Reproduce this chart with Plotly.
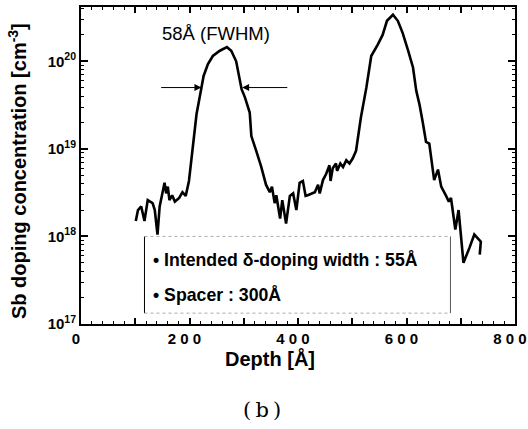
import plotly.graph_objects as go

# Sb SIMS profile
depth = [101, 105, 111, 117, 123, 132, 136, 141, 145, 150, 154, 157, 160, 163, 168,
         173, 181, 187, 193, 199, 206, 213, 222, 226, 234, 243, 256, 269, 277, 286,
         296, 302, 311, 314, 323, 332, 341, 348, 352, 357, 360, 364, 367, 371, 375,
         378, 385, 391, 397, 403, 409, 414, 418, 431, 437, 440, 446, 452, 458, 460,
         464, 470, 472, 478, 483, 489, 495, 501, 507, 516, 526, 535, 547, 556, 564,
         575, 584, 593, 603, 612, 618, 624, 630, 636, 642, 645, 651, 658, 664, 673,
         678, 682, 690, 696, 705, 716, 725, 737, 735]
conc = [1.5e18, 2.0e18, 2.2e18, 1.5e18, 2.6e18, 2.4e18, 2.0e18, 1.05e18, 2.2e18, 3.2e18,
        4.1e18, 3.1e18, 3.7e18, 2.6e18, 2.95e18, 2.5e18, 2.75e18, 3.2e18, 2.9e18, 4.3e18,
        1.05e19, 2.5e19, 5.0e19, 6.8e19, 9.3e19, 1.15e20, 1.32e20, 1.45e20, 1.32e20, 1.0e20,
        4.8e19, 3.9e19, 2.6e19, 1.4e19, 9.5e18, 6.3e18, 3.9e18, 3.2e18, 3.7e18, 2.4e18,
        2.95e18, 2.0e18, 1.6e18, 2.6e18, 1.9e18, 1.4e18, 2.9e18, 3.1e18, 2.0e18, 4.1e18,
        4.3e18, 2.9e18, 2.95e18, 3.2e18, 3.9e18, 3.1e18, 4.4e18, 5.2e18, 6.5e18, 4.3e18,
        6.0e18, 6.8e18, 5.6e18, 6.8e18, 6.2e18, 7.4e18, 6.8e18, 7.8e18, 9.5e18, 2.3e19,
        5.0e19, 1.15e20, 1.55e20, 2.0e20, 2.9e20, 3.4e20, 2.9e20, 2.1e20, 1.32e20, 8.5e19,
        4.6e19, 3.2e19, 2.0e19, 1.2e19, 1.15e19, 8.1e18, 4.4e18, 5.8e18, 3.7e18, 2.9e18,
        2.5e18, 2.75e18, 1.2e18, 2.0e18, 5.0e17, 7.4e17, 1.05e18, 8.7e17, 6.2e17]

x_tickvals = [0, 100, 200, 300, 400, 500, 600, 700, 800]
x_ticktext = ["0", "", "2 0 0", "", "4 0 0", "", "6 0 0", "", "8 0 0"]
y_tickvals = [1e17, 1e18, 1e19, 1e20]
y_ticktext = ["10<sup>17</sup>", "10<sup>18</sup>", "10<sup>19</sup>", "10<sup>20</sup>"]

# FWHM arrows (log10 of concentration for the annotation y position)
fwhm_y = 19.70
fwhm_left = (145, 222)
fwhm_right = (383, 297)

# info box: shapes on a log axis take plain data values
box_x = (117, 681)
box_y = (1.33e17, 1.0e18)

FONT = "Liberation Sans, Arial, sans-serif"
W, H = 528, 429
L, R, T, B = 81, 13, 7, 105
PW, PH = W - L - R, H - T - B


def px_to_paper(px, py):
    # window pixels -> paper fractions for this layout
    return (px - L) / PW, (H - B - py) / PH


fig = go.Figure(
    go.Scatter(
        x=depth, y=conc, mode="lines",
        line=dict(color="black", width=2.6),
        showlegend=False,
    )
)

axis_common = dict(
    showline=True, linecolor="black", linewidth=2, mirror="ticks",
    ticks="inside", tickcolor="black", tickwidth=1.5,
    showgrid=False, zeroline=False, automargin=False,
    ticklabeloverflow="allow",
    tickfont=dict(family=FONT, size=15, color="black", weight="bold"),
)

fig.update_xaxes(
    range=[0, 800], tickvals=x_tickvals, ticktext=x_ticktext, ticklen=6,
    ticklabelshift=-5,
    minor=dict(dtick=20, ticks="inside", ticklen=3, tickcolor="black", tickwidth=1),
    **axis_common,
)
fig.update_yaxes(
    type="log", range=[17, 20.62], tickvals=y_tickvals, ticktext=y_ticktext, ticklen=7,
    minor=dict(dtick="D1", ticks="inside", ticklen=3, tickcolor="black", tickwidth=1),
    **axis_common,
)

# axis titles as annotations so they sit where the original has them
xt = px_to_paper(270, 358)
fig.add_annotation(
    x=xt[0], y=xt[1], xref="paper", yref="paper", xanchor="center", yanchor="middle",
    text="Depth [Å]", showarrow=False,
    font=dict(family=FONT, size=20, color="black", weight="bold"),
)
yt = px_to_paper(17, 171)
fig.add_annotation(
    x=yt[0], y=yt[1], xref="paper", yref="paper", xanchor="center", yanchor="middle",
    textangle=-90, text="Sb doping concentration [cm<sup>-3</sup>]", showarrow=False,
    font=dict(family=FONT, size=20, color="black", weight="bold"),
)

for tail, tip in (fwhm_left, fwhm_right):
    fig.add_annotation(
        x=tip, y=fwhm_y, ax=tail, ay=fwhm_y, xref="x", yref="y", axref="x", ayref="y",
        text="", showarrow=True, arrowhead=2, arrowsize=1.4, arrowwidth=1, arrowcolor="black",
    )

fig.add_annotation(
    x=248, y=20.32, xref="x", yref="y", text="58Å (FWHM)", showarrow=False,
    font=dict(family=FONT, size=18.5, color="black"),
)

# box with the growth conditions
fig.add_shape(type="line", x0=box_x[0], x1=box_x[0], y0=box_y[0], y1=box_y[1],
              line=dict(color="black", width=1))
fig.add_shape(type="line", x0=box_x[1], x1=box_x[1], y0=box_y[0], y1=box_y[1],
              line=dict(color="#555555", width=1))
for yy in box_y:
    fig.add_shape(type="line", x0=box_x[0], x1=box_x[1], y0=yy, y1=yy,
                  line=dict(color="#aaaaaa", width=1, dash="dot"))

fig.add_annotation(
    x=129, y=17.73, xref="x", yref="y", xanchor="left",
    text="• Intended δ-doping width : 55Å", showarrow=False,
    font=dict(family=FONT, size=17.7, color="black", weight="bold"),
)
fig.add_annotation(
    x=129, y=17.33, xref="x", yref="y", xanchor="left",
    text="• Spacer : 300Å", showarrow=False,
    font=dict(family=FONT, size=17.7, color="black", weight="bold"),
)

cap = px_to_paper(262, 410)
fig.add_annotation(
    x=cap[0], y=cap[1], xref="paper", yref="paper", xanchor="center", yanchor="middle",
    text="(\u2009b\u2009)", showarrow=False,
    font=dict(family="DejaVu Serif, Liberation Serif, serif", size=21, color="black"),
)

fig.update_layout(
    width=W, height=H,
    margin=dict(l=L, r=R, t=T, b=B),
    paper_bgcolor="#FFFFFF",
    plot_bgcolor="#FFFFFF",
)

# no body margin, no scrollbars: the figure fills the window from its origin
page_fix = (
    "document.body.style.margin = '0';"
    "document.body.style.overflow = 'hidden';"
    "document.documentElement.style.overflow = 'hidden';"
)
fig.write_html("out.html", post_script=page_fix, config={"displayModeBar": False})
